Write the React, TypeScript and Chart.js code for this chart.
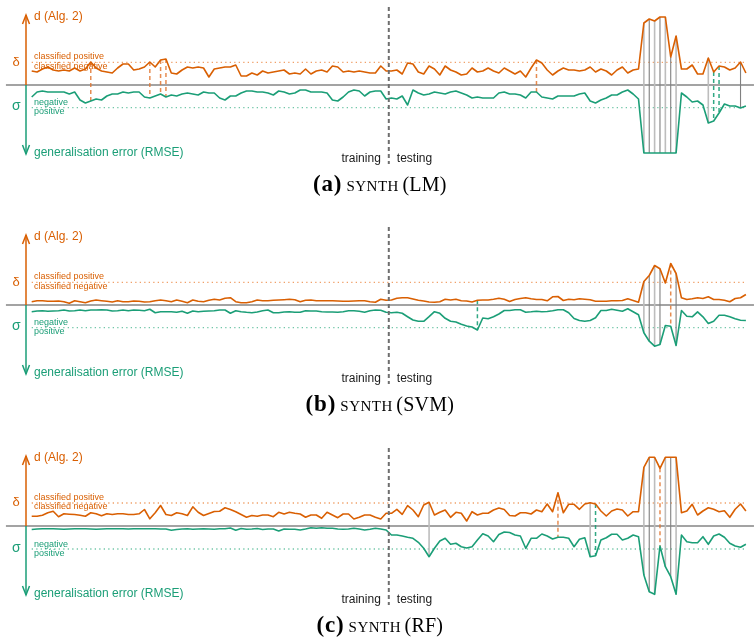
import React, { useEffect, useRef } from "react";
import { Chart, registerables } from "chart.js";

Chart.register(...registerables);

const ORANGE = "#d95f02";
const GREEN = "#1b9e77";
const N = 134;
const SPLIT = 66.5;

// ---------- panel (a) SYNTH (LM) ----------
const A_d = [
  1.4, 1.3, 1.6, 1.8, 1.5, 1.4, 1.5, 1.4, 1.7, 1.4,
  1.6, 2.3, 1.7, 1.4, 1.3, 1.2, 1.7, 2.1, 2.1, 1.5,
  1.6, 1.8, 2.3, 1.8, 2.5, 2.6, 1.2, 1.1, 1.5, 1.8,
  1.7, 1.8, 1.7, 0.8, 1.6, 1.7, 1.8, 1.8, 2.0, 0.9,
  0.9, 1.2, 1.0, 1.4, 1.2, 1.3, 1.4, 1.5, 1.1, 1.2,
  1.1, 1.6, 1.1, 1.4, 1.5, 1.3, 1.9, 1.8, 1.3, 1.4,
  1.3, 1.4, 1.3, 1.2, 1.2, 1.9, 1.4, 1.4, 1.5, 1.1,
  2.2, 2.1, 1.3, 1.1, 1.9, 1.6, 1.0, 1.9, 1.5, 1.3,
  1.0, 1.1, 1.7, 1.3, 1.4, 1.7, 1.4, 1.2, 1.7, 1.4,
  1.1, 1.4, 0.8, 1.7, 2.5, 2.2, 1.5, 1.0, 1.4, 1.7,
  1.5, 1.5, 1.4, 1.5, 1.8, 1.3, 1.6, 1.4, 1.0, 1.5,
  1.8, 1.2, 1.5, 1.6, 6.2, 6.6, 6.4, 6.8, 6.8, 2.8,
  4.9, 1.6, 1.6, 2.0, 1.1, 1.1, 2.7, 1.3, 1.9, 1.8,
  1.5, 1.7, 2.3, 1.2,
];
const A_e = [
  1.2, 0.7, 0.6, 0.7, 0.7, 0.7, 0.7, 0.9, 0.7, 1.5,
  1.8, 1.6, 1.4, 1.5, 1.1, 0.9, 0.9, 0.7, 0.8, 0.7,
  0.7, 1.2, 1.3, 1.1, 0.9, 1.2, 1.0, 1.1, 0.9, 0.8,
  0.9, 1.0, 0.7, 0.8, 0.8, 1.3, 1.5, 1.1, 1.1, 0.8,
  0.6, 0.6, 0.7, 0.7, 0.8, 1.0, 0.6, 0.7, 0.9, 0.8,
  0.5, 0.5, 0.7, 0.7, 0.7, 0.8, 1.5, 1.6, 1.2, 0.7,
  0.5, 0.6, 1.1, 0.7, 0.6, 0.6, 1.4, 1.3, 1.4, 1.1,
  2.0, 0.5, 0.8, 1.0, 0.9, 0.7, 0.8, 0.9, 0.7, 0.6,
  0.8, 1.0, 1.3, 1.2, 1.3, 1.3, 1.3, 0.8, 0.7, 0.9,
  0.9, 1.0, 1.3, 0.7, 0.7, 1.2, 1.3, 1.4, 1.1, 1.1,
  1.1, 1.1, 0.9, 0.8, 1.6, 1.8, 1.5, 1.3, 1.0, 1.0,
  0.7, 0.5, 0.9, 1.4, 6.8, 6.8, 6.8, 6.8, 6.8, 6.8,
  6.8, 0.8, 1.2, 1.7, 1.6, 2.0, 3.8, 3.6, 2.8, 1.9,
  2.1, 2.1, 2.3, 2.1,
];
const A_threshold = 2.27;
const A_grayLight = [114, 116, 118, 120, 126];
const A_grayDark = [115, 117, 119, 132];
const A_orangeDash = [11, 22, 24, 25, 94];
const A_greenDash = [127, 128];

// ---------- panel (b) SYNTH (SVM) ----------
const B_d = [
  0.33, 0.43, 0.43, 0.37, 0.37, 0.4, 0.33, 0.17, 0.43, 0.33,
  0.23, 0.4, 0.5, 0.43, 0.37, 0.3, 0.43, 0.33, 0.33, 0.4,
  0.37, 0.3, 0.33, 0.43, 0.5, 0.43, 0.33, 0.5, 0.37, 0.23,
  0.5, 0.37, 0.33, 0.47, 0.57, 0.5, 0.67, 0.73, 0.33, 0.23,
  0.23, 0.33, 0.5, 0.43, 0.43, 0.47, 0.5, 0.53, 0.57, 0.53,
  0.33, 0.47, 0.5, 0.43, 0.43, 0.43, 0.43, 0.4, 0.37, 0.37,
  0.4, 0.43, 0.43, 0.33, 0.27, 0.57, 0.47, 0.5, 0.67, 0.73,
  0.73, 0.6, 0.47, 0.4, 0.3, 0.27, 0.33, 0.57, 0.5, 0.57,
  0.43, 0.4, 0.3, 0.47, 0.5, 0.5, 0.57, 0.67, 0.57, 0.35,
  0.55, 0.65, 0.72, 0.62, 0.55, 0.55, 0.42, 0.82, 0.85, 0.45,
  0.58, 0.52, 0.62, 0.58, 0.52, 0.38, 0.38, 0.38, 0.42, 0.42,
  0.45, 0.62, 0.45, 0.28, 2.35, 2.95, 3.95, 3.62, 2.2, 4.15,
  3.15, 0.72, 0.55, 0.62, 0.72, 0.65, 0.82, 0.55, 0.55, 0.48,
  0.32, 0.65, 0.72, 1.05,
];
const B_e = [
  0.67, 0.6, 0.57, 0.63, 0.6, 0.57, 0.5, 0.6, 0.57, 0.5,
  0.57, 0.5, 0.5, 0.47, 0.5, 0.6, 0.57, 0.5, 0.57, 0.5,
  0.53, 0.57, 0.43, 0.77, 0.67, 0.67, 0.67, 0.73, 0.63, 0.83,
  0.6, 0.67, 0.63, 0.6, 0.57, 0.5, 0.5, 0.83, 0.57, 0.67,
  0.73, 0.77, 0.7, 0.57, 0.5, 0.77, 0.77, 0.7, 0.67, 0.73,
  0.73, 0.57, 0.6, 0.6, 0.67, 0.7, 0.7, 0.73, 0.67, 0.57,
  0.57, 0.63, 0.73, 0.57, 0.5, 0.53, 0.73, 0.77, 0.73, 0.83,
  1.17, 1.5, 1.63, 1.63, 1.17, 0.67, 0.83, 1.33, 1.63, 1.7,
  1.93, 2.1, 2.2, 2.5, 1.3, 1.37, 1.17, 0.9, 0.55, 0.55,
  0.48, 0.48, 0.72, 0.68, 0.62, 0.68, 0.65, 0.58, 0.48, 0.48,
  0.78, 1.35, 1.55, 1.62, 1.55, 1.28, 0.55, 0.55, 0.42, 0.52,
  0.62, 0.38, 0.68, 0.98, 2.78, 3.62, 4.12, 3.95, 2.05, 2.12,
  4.05, 0.55, 1.12, 1.18, 0.68, 1.18, 1.85, 1.62, 1.02, 1.02,
  1.18, 1.38, 1.52, 1.55,
];
const B_threshold = 2.27;
const B_grayLight = [114, 116];
const B_grayDark = [115, 117, 120];
const B_orangeDash = [119];
const B_greenDash = [83];

// ---------- panel (c) SYNTH (RF) ----------
const C_d = [
  0.98, 0.98, 1.08, 1.32, 1.48, 0.92, 1.22, 1.18, 1.15, 1.08,
  0.98, 1.32, 1.22, 1.02, 1.22, 1.15, 1.22, 1.22, 1.15, 1.15,
  1.22, 1.65, 0.72, 1.32, 2.05, 1.15, 1.05, 1.32, 1.22, 1.05,
  1.92, 1.38, 1.05, 1.25, 1.45, 1.48, 1.82, 1.65, 1.42, 1.15,
  0.88, 1.05, 0.98, 1.1, 1.1, 0.93, 1.37, 1.2, 1.37, 1.27,
  1.2, 0.87, 1.1, 1.1, 0.77, 1.37, 1.1, 0.83, 1.2, 1.2,
  0.7, 0.87, 1.1, 1.1, 0.87, 0.7, 1.27, 1.27, 1.67, 1.17,
  2.03, 1.6, 0.93, 2.1, 2.37, 1.1, 1.37, 1.6, 0.87, 1.37,
  1.27, 0.5, 1.43, 1.1, 1.27, 1.27, 1.6, 1.8, 1.65, 1.05,
  1.0, 1.33, 1.33, 1.2, 1.6, 1.43, 2.2, 1.43, 3.33, 1.33,
  2.17, 2.17, 1.67, 2.2, 2.33, 2.2, 1.5, 1.0, 1.5, 1.7,
  1.6, 1.0, 1.43, 1.43, 5.87, 6.87, 6.87, 5.77, 6.87, 6.87,
  6.87, 1.33, 1.5, 2.17, 1.1, 1.5, 1.83, 1.67, 1.43, 1.53,
  0.87, 1.67, 2.2, 1.5,
];
const C_e = [
  0.35, 0.3, 0.28, 0.28, 0.28, 0.3, 0.33, 0.3, 0.28, 0.28,
  0.28, 0.3, 0.33, 0.3, 0.28, 0.28, 0.28, 0.28, 0.3, 0.28,
  0.28, 0.28, 0.28, 0.28, 0.3, 0.3, 0.42, 0.35, 0.3, 0.28,
  0.33, 0.3, 0.28, 0.3, 0.33, 0.28, 0.28, 0.2, 0.42, 0.25,
  0.33, 0.3, 0.25, 0.35, 0.3, 0.3, 0.5, 0.3, 0.33, 0.33,
  0.4, 0.3, 0.17, 0.23, 0.17, 0.23, 0.23, 0.3, 0.33, 0.3,
  0.23, 0.3, 0.4, 0.33, 0.23, 0.3, 0.4, 0.9, 0.9, 1.0,
  1.13, 1.23, 1.63, 2.23, 3.07, 2.23, 1.5, 1.23, 1.83, 1.73,
  2.07, 2.2, 2.07, 1.4, 0.77, 1.0, 1.57, 0.85, 0.6, 0.65,
  0.9, 1.0, 2.23, 1.23, 1.23, 0.8, 1.0, 1.3, 1.13, 1.13,
  1.23, 2.07, 1.33, 1.17, 3.07, 2.97, 1.4, 1.17, 0.83, 0.83,
  1.4, 1.23, 0.9, 1.07, 4.9, 6.57, 6.83, 2.0, 4.07, 5.07,
  6.83, 0.9, 1.57, 1.67, 1.67, 1.07, 1.83, 1.0, 0.8, 1.13,
  1.73, 2.0, 2.13, 1.83,
];
const C_threshold = 2.3;
const C_grayLight = [74, 104, 114, 116, 118, 120];
const C_grayDark = [115, 119];
const C_orangeDash = [98, 117];
const C_greenDash = [105];

// ---------- labels ----------
const TAGS = ["(a)", "(b)", "(c)"];
const MODELS = ["(LM)", "(SVM)", "(RF)"];
const DATASET_NAME = "SYNTH";
const UP_LABEL = "d (Alg. 2)";
const DOWN_LABEL = "generalisation error (RMSE)";
const POS_LABEL = "classified positive";
const NEG_LABEL = "classified negative";
const SIG_NEG = "negative";
const SIG_POS = "positive";
const TRAIN_LABEL = "training";
const TEST_LABEL = "testing";

const PANEL_TOPS = [0, 220, 441];
const CANVAS_H = 200;

type PanelDef = {
  tag: string;
  model: string;
  d: number[];
  e: number[];
  thr: number;
  light: number[];
  dark: number[];
  od: number[];
  gd: number[];
};

const PANELS: PanelDef[] = [
  { tag: TAGS[0], model: MODELS[0], d: A_d, e: A_e, thr: A_threshold, light: A_grayLight, dark: A_grayDark, od: A_orangeDash, gd: A_greenDash },
  { tag: TAGS[1], model: MODELS[1], d: B_d, e: B_e, thr: B_threshold, light: B_grayLight, dark: B_grayDark, od: B_orangeDash, gd: B_greenDash },
  { tag: TAGS[2], model: MODELS[2], d: C_d, e: C_e, thr: C_threshold, light: C_grayLight, dark: C_grayDark, od: C_orangeDash, gd: C_greenDash },
];

const SANS = "'Liberation Sans', Arial, sans-serif";
const SERIF = "'Liberation Serif', 'Times New Roman', serif";

function connectors(d: number[], e: number[], idx: number[]) {
  const out: any[] = [];
  idx.forEach((k) => {
    out.push({ x: k, y: d[k] }, { x: k, y: -e[k] }, { x: k, y: null });
  });
  return out;
}

function spacedWidth(ctx: CanvasRenderingContext2D, t: string, ls: number) {
  let w = 0;
  for (const ch of t) w += ctx.measureText(ch).width + ls;
  return w - ls;
}
function drawSpaced(ctx: CanvasRenderingContext2D, t: string, x: number, y: number, ls: number) {
  let cx = x;
  for (const ch of t) {
    ctx.fillText(ch, cx, y);
    cx += ctx.measureText(ch).width + ls;
  }
}

function makePlugin(p: PanelDef) {
  return {
    id: "annot",
    afterDraw(chart: any) {
      const ctx: CanvasRenderingContext2D = chart.ctx;
      const ys = chart.scales.y;
      const xs = chart.scales.x;
      const base = ys.getPixelForValue(0);
      const dPix = ys.getPixelForValue(p.thr);
      const sPix = ys.getPixelForValue(-p.thr);
      const tipUp = ys.getPixelForValue(7.0);
      const tipDown = ys.getPixelForValue(-6.9);
      const ax = 26;
      ctx.save();
      ctx.lineCap = "butt";
      ctx.lineJoin = "miter";
      // orange arrow
      ctx.strokeStyle = ORANGE;
      ctx.lineWidth = 1.5;
      ctx.beginPath();
      ctx.moveTo(ax, base);
      ctx.lineTo(ax, tipUp);
      ctx.stroke();
      ctx.beginPath();
      ctx.moveTo(ax - 3.5, tipUp + 9);
      ctx.lineTo(ax, tipUp);
      ctx.lineTo(ax + 3.5, tipUp + 9);
      ctx.stroke();
      // green arrow
      ctx.strokeStyle = GREEN;
      ctx.beginPath();
      ctx.moveTo(ax, base);
      ctx.lineTo(ax, tipDown);
      ctx.stroke();
      ctx.beginPath();
      ctx.moveTo(ax - 3.5, tipDown - 9);
      ctx.lineTo(ax, tipDown);
      ctx.lineTo(ax + 3.5, tipDown - 9);
      ctx.stroke();

      ctx.textBaseline = "alphabetic";
      ctx.textAlign = "left";
      // orange texts
      ctx.fillStyle = ORANGE;
      ctx.font = `12px ${SANS}`;
      ctx.fillText(UP_LABEL, 34, base - 65.5);
      ctx.font = `13px ${SANS}`;
      ctx.fillText("δ", 12.5, dPix + 3.4);
      ctx.font = `9px ${SANS}`;
      ctx.fillText(POS_LABEL, 34, dPix - 3);
      ctx.fillText(NEG_LABEL, 34, dPix + 6.2);
      // green texts
      ctx.fillStyle = GREEN;
      ctx.font = `14px ${SANS}`;
      ctx.fillText("σ", 12, sPix + 2.5);
      ctx.font = `9px ${SANS}`;
      ctx.fillText(SIG_NEG, 34, sPix - 2.5);
      ctx.fillText(SIG_POS, 34, sPix + 6.5);
      ctx.font = `12px ${SANS}`;
      ctx.fillText(DOWN_LABEL, 34, base + 71.3);
      // training / testing
      const sx = xs.getPixelForValue(SPLIT);
      ctx.fillStyle = "#1a1a1a";
      ctx.font = `12px ${SANS}`;
      ctx.textAlign = "right";
      ctx.fillText(TRAIN_LABEL, sx - 8, base + 76.5);
      ctx.textAlign = "left";
      ctx.fillText(TEST_LABEL, sx + 8, base + 76.5);

      // caption
      ctx.fillStyle = "#000";
      const capY = base + 106;
      const f1 = `bold 23px ${SERIF}`;
      const f2 = `15px ${SERIF}`;
      const f3 = `20px ${SERIF}`;
      const ls1 = 0.8, ls2 = 0.5, ls3 = 0.2;
      ctx.font = f1;
      const w1 = spacedWidth(ctx, p.tag, ls1);
      ctx.font = f2;
      const w2 = spacedWidth(ctx, DATASET_NAME, ls2);
      ctx.font = f3;
      const w3 = spacedWidth(ctx, p.model, ls3);
      const g1 = 5, g2 = 4;
      const total = w1 + g1 + w2 + g2 + w3;
      let cx = 379.7 - total / 2;
      ctx.font = f1;
      drawSpaced(ctx, p.tag, cx, capY, ls1);
      cx += w1 + g1;
      ctx.font = f2;
      drawSpaced(ctx, DATASET_NAME, cx, capY, ls2);
      cx += w2 + g2;
      ctx.font = f3;
      drawSpaced(ctx, p.model, cx, capY, ls3);
      ctx.restore();
    },
  };
}

function buildConfig(p: PanelDef): any {
  const orange = p.d.map((v, i) => ({ x: i, y: v }));
  const green = p.e.map((v, i) => ({ x: i, y: -v }));
  const common = { pointRadius: 0, pointHoverRadius: 0, fill: false, clip: false, spanGaps: false, tension: 0 };
  return {
    type: "line",
    data: {
      datasets: [
        { ...common, data: [{ x: SPLIT, y: 7.8 }, { x: SPLIT, y: -7.9 }], borderColor: "#6e6e6e", borderWidth: 2, borderDash: [4, 3], order: 0 },
        { ...common, data: orange, borderColor: ORANGE, borderWidth: 1.6, borderJoinStyle: "round", order: 1 },
        { ...common, data: green, borderColor: GREEN, borderWidth: 1.6, borderJoinStyle: "round", order: 2 },
        { ...common, data: connectors(p.d, p.e, p.od), borderColor: "rgba(226,120,50,0.85)", borderWidth: 1.5, borderDash: [4, 3], order: 3 },
        { ...common, data: connectors(p.d, p.e, p.gd), borderColor: "rgba(27,158,119,0.9)", borderWidth: 1.5, borderDash: [4, 3], order: 3 },
        { ...common, data: connectors(p.d, p.e, p.light), borderColor: "#bdbdbd", borderWidth: 1.6, order: 4 },
        { ...common, data: connectors(p.d, p.e, p.dark), borderColor: "#808080", borderWidth: 1.1, order: 4 },
        { ...common, data: [{ x: -4.8, y: 0 }, { x: 134.5, y: 0 }], borderColor: "#a3a3a3", borderWidth: 1.8, order: 5 },
        { ...common, data: [{ x: 0, y: p.thr }, { x: N - 1, y: p.thr }], borderColor: "#f0a068", borderWidth: 1.3, borderDash: [1.3, 3.2], order: 6 },
        { ...common, data: [{ x: 0, y: -p.thr }, { x: N - 1, y: -p.thr }], borderColor: "#72c6a8", borderWidth: 1.3, borderDash: [1.3, 3.2], order: 6 },
      ],
    },
    options: {
      animation: false,
      responsive: false,
      maintainAspectRatio: false,
      devicePixelRatio: 1,
      parsing: true,
      layout: { padding: { left: 31.7, right: 8.1, top: 10, bottom: CANVAS_H - 160 } },
      scales: {
        x: { type: "linear", min: 0, max: N - 1, display: false },
        y: { type: "linear", min: -7.5, max: 7.5, display: false },
      },
      plugins: { legend: { display: false }, tooltip: { enabled: false } },
      events: [],
    },
    plugins: [makePlugin(p)],
  };
}

function Panel({ p, top }: { p: PanelDef; top: number }) {
  const ref = useRef<HTMLCanvasElement | null>(null);
  useEffect(() => {
    const chart = new Chart(ref.current as HTMLCanvasElement, buildConfig(p));
    return () => chart.destroy();
  }, [p]);
  return (
    <canvas
      ref={ref}
      width={754}
      height={CANVAS_H}
      style={{ position: "absolute", left: 0, top, width: 754, height: CANVAS_H, display: "block" }}
    />
  );
}

export default function App() {
  return (
    <div style={{ position: "absolute", left: 0, top: 0, width: 754, height: 638, overflow: "hidden", background: "#fff" }}>
      {PANELS.map((p, k) => (
        <Panel key={k} p={p} top={PANEL_TOPS[k]} />
      ))}
    </div>
  );
}
